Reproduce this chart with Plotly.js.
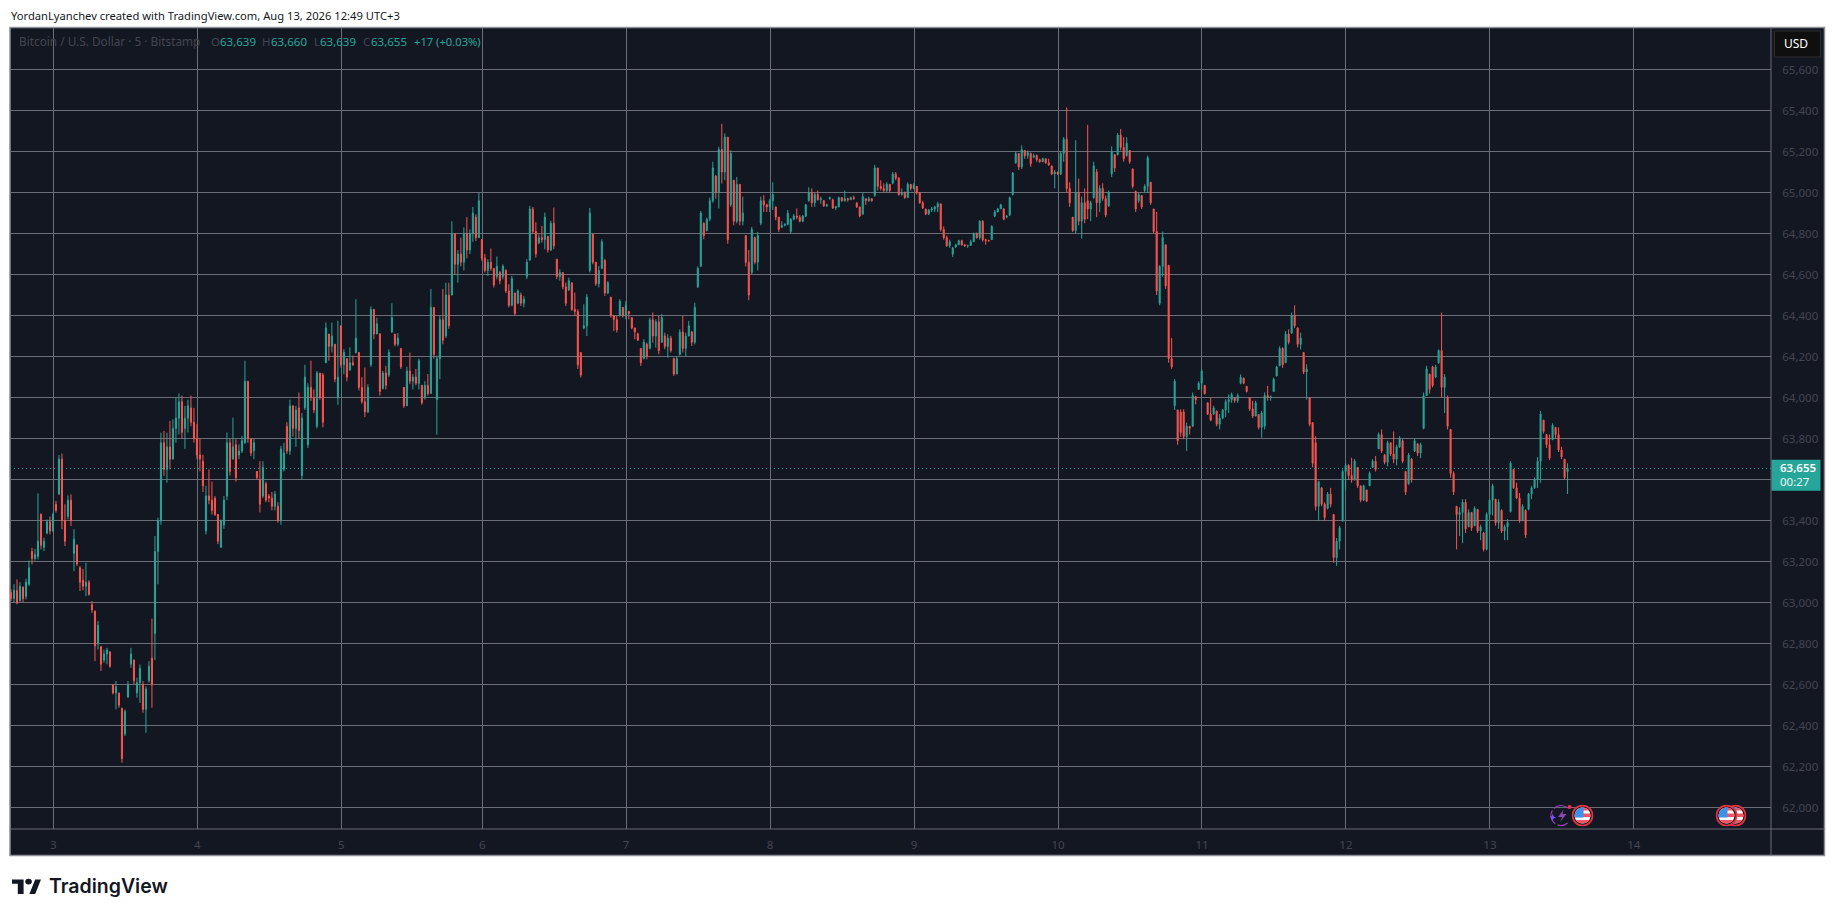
<!DOCTYPE html>
<html>
<head>
<meta charset="utf-8">
<title>BTCUSD</title>
<script src="https://cdn.plot.ly/plotly-3.0.1.min.js"></script>
<style>
    html, body { margin: 0; padding: 0; background: #fff; overflow: hidden; }
    #chart { width: 1835px; height: 917px; }
</style>
</head>
<body>
<div id="chart"></div>
<script>
// rows are [open, high, low, close], one row every 3 screen px
const day2 = [
[63050,63065,63008,63020],[63020,63090,63000,63060],[63060,63114,62992,63000],[63010,63100,63005,63080],[63075,63080,63003,63020],[63030,63117,63016,63100],[63090,63206,63081,63170],[63250,63268,63187,63215],[63215,63263,63205,63235],[63225,63533,63211,63300],[63430,63436,63260,63280],[63270,63317,63252,63300],[63340,63406,63333,63395],[63395,63420,63333,63350]
];
const day3 = [
[63350,63440,63345,63430],[63480,63496,63439,63450],[63530,63720,63525,63700],[63700,63727,63358,63400],[63400,63480,63276,63300],[63420,63523,63406,63500],[63500,63528,63374,63400],[63240,63358,63154,63310],[63280,63285,63179,63190],[63170,63179,63057,63100],[63110,63165,63060,63080],[63080,63195,63032,63100],
[63100,63110,63035,63040],[62990,63008,62950,62965],[62960,62960,62715,62790],[62800,62911,62772,62890],[62785,62790,62667,62700],[62720,62772,62707,62750],[62750,62780,62700,62770],[62760,62764,62683,62690],[62600,62602,62553,62560],[62560,62618,62480,62590],[62560,62562,62488,62500],[62485,62488,62220,62240],
[62360,62480,62350,62470],[62540,62618,62537,62600],[62700,62780,62683,62750],[62720,62724,62602,62620],[62560,62634,62537,62610],[62610,62699,62512,62680],[62600,62618,62463,62480],[62480,62593,62366,62580],[62620,62715,62610,62690],[62730,62923,62488,62600],[62850,63325,62720,63250],[63250,63415,63090,63400],
[63400,63829,63380,63780],[63780,63837,63618,63650],[63650,63829,63585,63760],[63760,63886,63650,63700],[63700,63894,63700,63850],[63850,64000,63780,63900],[63900,64020,63820,63980],[63980,64010,63800,63830],[63850,63960,63750,63900],[63900,63990,63830,63960],[63950,64010,63860,63880],[63880,63950,63780,63800]
];
const day4 = [
[63800,63870,63700,63720],[63720,63800,63640,63700],[63690,63720,63540,63570],[63350,63570,63333,63520],[63520,63650,63480,63500],[63500,63590,63430,63450],[63510,63520,63423,63430],[63430,63425,63285,63300],[63270,63406,63277,63400],[63380,63520,63360,63500],[63520,63830,63500,63780],[63780,63800,63620,63640],
[63700,63902,63700,63760],[63770,63797,63590,63610],[63720,63772,63700,63740],[63740,63813,63730,63790],[63780,64180,63775,64080],[64080,64080,63780,63800],[63800,63800,63715,63730],[63740,63800,63700,63780],[63640,63640,63600,63610],[63600,63690,63440,63480],[63520,63690,63510,63660],[63580,63590,63490,63500],
[63520,63530,63490,63510],[63510,63540,63450,63470],[63470,63545,63450,63530],[63470,63490,63390,63400],[63400,63765,63380,63750],[63650,63780,63640,63730],[63860,63880,63725,63740],[63740,63990,63720,63960],[63960,63960,63810,63850],[63850,63960,63760,63940],[63950,64025,63800,63840],[63620,63925,63600,63900],
[63950,64160,63940,64100],[63770,64070,63755,64050],[64050,64180,63984,64000],[64000,64040,63925,63940],[63860,64130,63850,64120],[64120,64120,63990,64000],[64110,64120,63855,63880],[64170,64366,64170,64340],[64310,64310,64180,64250],[64250,64366,64220,64300],[64260,64260,64075,64090],[64000,64375,63965,64100]
];
const day5 = [
[64350,64350,64146,64160],[64160,64236,64114,64220],[64190,64190,64080,64100],[64135,64245,64130,64170],[64170,64205,64155,64160],[64220,64480,64215,64290],[64220,64220,64035,64050],[64050,64100,63970,63980],[63980,64147,63905,63930],[63930,64065,63925,64050],[64160,64445,64150,64430],[64430,64430,64285,64310],
[64310,64390,64310,64360],[64310,64315,64010,64030],[64045,64130,64040,64120],[64120,64155,64040,64060],[64110,64235,64100,64220],[64320,64460,64315,64390],[64310,64310,64250,64260],[64260,64315,64250,64290],[64240,64240,64140,64150],[64050,64050,63950,63960],[63960,64150,63960,64130],[64130,64220,64065,64080],
[64080,64115,64040,64100],[64100,64140,64060,64070],[64070,64190,64040,64180],[64060,64060,63965,63975],[64000,64080,63990,64060],[64060,64115,64010,64020],[64020,64530,64020,64440],[64440,64440,64190,64210],[63990,64205,63820,64190],[64190,64400,64090,64380],[64380,64530,64260,64280],[64300,64560,64290,64500],
[64500,64560,64335,64350],[64500,64860,64500,64800],[64800,64800,64600,64650],[64650,64720,64560,64700],[64700,64780,64640,64660],[64660,64830,64620,64800],[64800,64880,64680,64720],[64720,64820,64700,64800],[64800,64930,64760,64900],[64880,64894,64764,64780],[64780,65000,64790,64960]
];
const day6 = [
[64770,64772,64667,64680],[64680,64700,64610,64620],[64620,64675,64593,64660],[64660,64727,64618,64630],[64630,64630,64537,64550],[64590,64688,64577,64640],[64610,64618,64553,64570],[64590,64650,64577,64640],[64620,64626,64510,64520],[64520,64553,64440,64450],[64450,64593,64445,64580],[64510,64512,64398,64410],
[64460,64528,64455,64520],[64500,64512,64447,64460],[64460,64495,64440,64480],[64590,64675,64578,64660],[64670,64935,64670,64920],[64920,64930,64797,64810],[64810,64855,64683,64700],[64755,64797,64748,64780],[64780,64837,64755,64770],[64770,64902,64724,64880],[64785,64789,64707,64720],[64720,64862,64715,64850],
[64850,64927,64724,64740],[64675,64675,64577,64590],[64590,64626,64570,64610],[64610,64610,64528,64540],[64540,64561,64447,64460],[64525,64585,64520,64570],[64560,64561,64423,64430],[64430,64512,64398,64420],[64420,64431,64140,64160],[64220,64220,64098,64110],[64340,64455,64333,64350],[64350,64505,64300,64490],
[64620,64925,64610,64900],[64797,64797,64650,64660],[64660,64660,64545,64555],[64555,64642,64537,64620],[64630,64772,64626,64760],[64670,64675,64496,64510],[64510,64569,64504,64560],[64490,64490,64390,64400],[64400,64400,64325,64380],[64380,64398,64317,64330],[64400,64480,64395,64470],[64440,64440,64390,64400]
];
const day7 = [
[64400,64472,64382,64450],[64420,64423,64382,64410],[64390,64390,64333,64340],[64340,64340,64285,64320],[64310,64317,64276,64280],[64240,64240,64155,64170],[64190,64285,64187,64270],[64260,64268,64187,64200],[64240,64390,64236,64380],[64380,64415,64268,64300],[64300,64382,64244,64370],[64370,64398,64211,64230],
[64270,64407,64268,64390],[64300,64317,64236,64250],[64250,64309,64195,64290],[64290,64301,64220,64230],[64190,64195,64106,64115],[64115,64203,64114,64190],[64210,64333,64205,64320],[64320,64398,64220,64240],[64240,64317,64203,64300],[64300,64374,64300,64350],[64320,64325,64252,64270],[64270,64463,64260,64440],
[64540,64640,64535,64630],[64640,64910,64640,64900],[64850,64855,64772,64790],[64815,64878,64810,64870],[64870,64975,64860,64960],[64960,65150,64950,65120],[65080,65085,64970,65000],[65000,65223,64922,65210],[65210,65335,65044,65100],[65100,65288,65060,65270],[65270,65270,64750,64770],[64940,65206,64930,65190],
[65060,65060,64840,64860],[64860,65076,64850,65040],[65040,65040,64840,64860],[64860,64980,64840,64900],[64790,64790,64640,64660],[64660,64720,64475,64500],[64610,64832,64600,64820],[64780,64785,64650,64660],[64660,64808,64620,64790],[64850,64980,64840,64960],[64960,64987,64905,64940],[64940,64945,64905,64930]
];
const day8 = [
[64930,64970,64905,64960],[64960,65050,64915,64990],[64930,64930,64865,64880],[64880,64880,64808,64820],[64830,64860,64830,64840],[64840,64850,64835,64845],[64845,64915,64840,64900],[64810,64875,64800,64870],[64870,64895,64865,64885],[64885,64922,64870,64880],[64880,64890,64855,64860],[64860,64890,64855,64885],
[64885,64945,64880,64940],[64960,65025,64955,65000],[65000,65020,64930,64950],[64950,65000,64930,64990],[64990,65010,64960,64965],[64965,64980,64945,64970],[64960,64962,64930,64935],[64935,64945,64930,64940],[64970,64980,64965,64975],[64965,64970,64920,64925],[64925,64935,64915,64930],[64930,64980,64930,64975],
[64975,64978,64955,64960],[64960,65010,64955,64970],[64970,64975,64955,64965],[64965,64980,64965,64975],[64975,64985,64965,64970],[64950,64950,64925,64930],[64930,64930,64880,64885],[64895,65000,64890,64980],[64970,64970,64940,64960],[64960,64980,64955,64970],[64970,64970,64955,64960],[64985,65135,64980,65120],
[65120,65120,65010,65030],[65030,65060,65010,65020],[65020,65045,65000,65010],[65010,65050,65000,65040],[65040,65040,65000,65010],[65045,65100,65040,65090],[65090,65100,65060,65070],[65070,65075,64985,64990],[64990,65020,64985,65000],[65000,65005,64970,64975],[64975,65050,64975,65040],[65040,65040,65010,65020]
];
const day9 = [
[65020,65045,65015,65035],[65030,65030,64990,65000],[65000,65000,64945,64950],[64950,64960,64920,64925],[64920,64920,64890,64895],[64895,64920,64890,64915],[64915,64930,64905,64920],[64920,64935,64905,64930],[64930,64955,64905,64945],[64945,64945,64810,64820],[64820,64835,64770,64780],[64780,64790,64735,64740],
[64740,64770,64730,64760],[64700,64735,64685,64730],[64735,64750,64730,64745],[64745,64770,64745,64765],[64765,64770,64740,64745],[64745,64750,64735,64740],[64740,64745,64730,64742],[64742,64770,64742,64760],[64760,64805,64760,64800],[64800,64805,64775,64780],[64780,64865,64770,64860],[64860,64865,64760,64770],
[64770,64775,64745,64765],[64765,64770,64760,64765],[64770,64840,64770,64835],[64885,64915,64880,64905],[64905,64925,64905,64920],[64920,64945,64920,64940],[64920,64925,64865,64870],[64880,64890,64875,64885],[64890,64980,64885,64975],[64990,65100,64985,65095],[65145,65200,65140,65190],[65190,65190,65110,65125],
[65125,65230,65115,65210],[65205,65205,65165,65180],[65180,65205,65165,65195],[65190,65195,65125,65140],[65172,65190,65170,65180],[65180,65185,65150,65160],[65160,65165,65145,65150],[65150,65170,65150,65165],[65165,65165,65140,65145],[65145,65165,65130,65135],[65130,65130,65085,65090],[65090,65110,65020,65100]
];
const day10 = [
[65100,65100,65085,65090],[65090,65200,65085,65190],[65190,65270,65150,65260],[65260,65415,65000,65020],[65020,65050,64930,64950],[64880,64880,64808,64815],[64815,65255,64800,65000],[65000,65068,64840,64860],[64860,64980,64775,64950],[64950,65020,64850,64870],[64960,65330,64870,64920],[64920,64960,64860,64950],
[64975,65150,64970,65130],[65100,65115,64880,64950],[64950,65035,64905,65020],[65020,65045,64960,64970],[64970,64985,64880,64890],[64935,65010,64930,65000],[65090,65225,65075,65200],[65185,65185,65100,65120],[65185,65290,65180,65280],[65280,65310,65205,65220],[65220,65270,65150,65165],[65180,65270,65175,65240],
[65205,65205,65140,65150],[65115,65117,65020,65030],[65005,65010,64905,64920],[64960,65000,64950,64990],[64985,64985,64920,64930],[65010,65040,65000,65030],[65030,65180,65000,65170],[65050,65050,64940,64950],[64920,64920,64800,64810],[64810,64905,64500,64520],[64460,64645,64450,64640],[64640,64810,64590,64780],
[64745,64745,64530,64545],[64645,64645,64170,64190],[64190,64290,64140,64150],[63960,64090,63940,64080],[63940,63940,63770,63790],[63930,63943,63810,63830],[63930,63943,63797,63810],[63810,63878,63740,63860],[63860,63860,63820,63850],[63860,64025,63860,64010],[64005,64008,63967,63990],[64040,64080,64040,64070]
];
const day11 = [
[64070,64140,64040,64130],[64060,64060,64015,64020],[63975,63975,63915,63920],[63920,64000,63885,63890],[63920,63960,63915,63950],[63935,63935,63860,63870],[63870,63920,63845,63900],[63900,63945,63895,63940],[63940,63992,63905,63980],[63980,64016,63925,63990],[63990,64025,63975,64015],[64000,64000,63975,63985],
[63985,64020,63975,64010],[64070,64113,64065,64100],[64095,64098,64065,64070],[64055,64057,64025,64030],[64000,64000,63935,63945],[63945,63985,63900,63910],[63910,63985,63910,63975],[63918,63918,63845,63855],[63855,63935,63805,63925],[63860,64025,63845,64010],[64010,64057,63985,64000],[64000,64010,63985,64005],
[64030,64098,64030,64090],[64105,64155,64105,64150],[64155,64250,64155,64240],[64240,64245,64145,64160],[64170,64325,64170,64310],[64310,64333,64260,64270],[64315,64415,64310,64400],[64400,64450,64340,64350],[64340,64342,64245,64260],[64260,64317,64235,64290],[64220,64220,64115,64125],[64125,64163,63990,64140],
[64000,64000,63860,63870],[63878,63878,63660,63680],[63780,63812,63450,63470],[63470,63595,63400,63590],[63560,63562,63470,63480],[63480,63490,63400,63415],[63460,63540,63455,63530],[63530,63560,63465,63480],[63430,63430,63195,63220],[63220,63315,63180,63300],[63300,63375,63260,63365],[63400,63650,63395,63640]
];
const day12 = [
[63640,63680,63550,63670],[63670,63675,63600,63620],[63620,63707,63585,63600],[63600,63700,63595,63690],[63660,63660,63560,63570],[63570,63570,63490,63500],[63500,63575,63495,63570],[63550,63550,63490,63495],[63570,63640,63570,63630],[63660,63700,63660,63690],[63690,63715,63640,63650],[63750,63830,63750,63820],
[63820,63845,63730,63740],[63720,63725,63675,63685],[63685,63790,63665,63780],[63780,63780,63715,63725],[63725,63835,63680,63700],[63700,63770,63670,63760],[63760,63812,63755,63800],[63790,63797,63680,63690],[63640,63640,63525,63540],[63580,63730,63575,63720],[63700,63705,63585,63600],[63740,63800,63735,63790],
[63775,63775,63715,63730],[63730,63780,63705,63770],[63850,64025,63845,64010],[64010,64155,64010,64140],[64115,64115,64020,64040],[64150,64155,64050,64060],[64100,64160,64095,64150],[64170,64235,64165,64230],[64230,64415,64000,64050],[64050,64115,63925,64100],[64000,64010,63845,63860],[63845,63845,63610,63630],
[63630,63640,63525,63540],[63470,63470,63260,63430],[63430,63465,63325,63440],[63440,63505,63290,63490],[63490,63505,63340,63360],[63370,63455,63370,63440],[63440,63440,63350,63365],[63375,63470,63375,63460],[63455,63455,63340,63350],[63350,63380,63305,63370],[63340,63345,63250,63260],[63260,63440,63255,63430]
];
const day13 = [
[63430,63505,63405,63500],[63500,63580,63425,63570],[63505,63505,63375,63390],[63390,63505,63360,63490],[63450,63455,63340,63350],[63350,63380,63305,63370],[63370,63408,63305,63390],[63445,63690,63440,63680],[63650,63650,63555,63560],[63560,63585,63505,63510],[63510,63535,63390,63400],[63400,63480,63400,63470],
[63450,63455,63315,63330],[63455,63535,63450,63530],[63530,63570,63505,63560],[63560,63610,63555,63600],[63600,63710,63560,63690],[63690,63935,63585,63920],[63890,63890,63825,63835],[63820,63820,63755,63770],[63770,63820,63695,63705],[63795,63875,63795,63865],[63855,63855,63800,63820],[63820,63855,63735,63745],
[63745,63760,63700,63710],[63700,63700,63600,63610],[63639,63680,63530,63655]
];

const priceTicks = [62000,62200,62400,62600,62800,63000,63200,63400,63600,63800,64000,64200,64400,64600,64800,65000,65200,65400,65600];
const priceLabels = ["62,000","62,200","62,400","62,600","62,800","63,000","63,200","63,400","","63,800","64,000","64,200","64,400","64,600","64,800","65,000","65,200","65,400","65,600"];
const dayTicks = [14.1,62.1,110.1,157.1,205.1,253.1,301.1,349.1,397.1,445.1,493.1,541.1];
const dayLabels = ["3","4","5","6","7","8","9","10","11","12","13","14"];
const lastPrice = 63655;

const UP = "#26a69a";
const DOWN = "#f9554f";
const BG = "#131722";
const GRID = "#6b6d77";
const DIM = "#434651";
const FONT = "Noto Sans, DejaVu Sans, sans-serif";

// screen px -> paper coords
const L = 10, R = 1771.5, T = 28, B = 829.5;
const px = (x) => (x - L) / (R - L);
const py = (y) => 1 - (y - T) / (B - T);

const rows = [...day2, ...day3, ...day4, ...day5, ...day6, ...day7, ...day8, ...day9, ...day10, ...day11, ...day12, ...day13];

const data = [{
    type: "candlestick",
    x: rows.map((r, i) => i),
    open: rows.map(r => r[0]),
    high: rows.map(r => r[1]),
    low: rows.map(r => r[2]),
    close: rows.map(r => r[3]),
    whiskerwidth: 0,
    increasing: {line: {color: UP, width: 1}, fillcolor: UP},
    decreasing: {line: {color: DOWN, width: 1}, fillcolor: DOWN},
    hoverinfo: "skip"
}];

const svgUri = (s) => "data:image/svg+xml;base64," + btoa(s);
const flagSvg = `<svg xmlns="http://www.w3.org/2000/svg" width="44" height="44" viewBox="0 0 44 44">
<defs><clipPath id="c"><circle cx="22" cy="22" r="16"/></clipPath></defs>
<circle cx="22" cy="22" r="20" fill="#131722" stroke="#e5323f" stroke-width="3.5"/>
<g clip-path="url(#c)"><rect x="0" y="0" width="44" height="44" fill="#fff"/>
<rect x="0" y="6" width="44" height="6" fill="#f7525f"/><rect x="0" y="18" width="44" height="7" fill="#f7525f"/><rect x="0" y="31" width="44" height="7" fill="#f7525f"/>
<rect x="4" y="4" width="20" height="22" fill="#3f8fe8"/></g></svg>`;
const boltSvg = `<svg xmlns="http://www.w3.org/2000/svg" width="60" height="48" viewBox="0 0 60 48">
<path d="M46 9 A20 20 0 1 0 46 39" transform="translate(-6 0)" fill="none" stroke="#9c3fb8" stroke-width="2.4" stroke-dasharray="30 5"/>
<path d="M32 12 L21 27 H29 L25 37 L38 21 H30 Z" fill="#8e44ad"/>
<path d="M4 27 C8 26 9 25 10 19 C11 25 12 26 17 28 C12 29 11 30 10 37 C9 30 8 29 4 27 Z" fill="#7b4dff"/>
<circle cx="44" cy="7" r="4" fill="#f23645"/></svg>`;
const logoSvg = `<svg xmlns="http://www.w3.org/2000/svg" width="70" height="36" viewBox="0 4 35 22" preserveAspectRatio="none">
<path d="M14 6H0v6h7v14h7V6zM28 26h-7l7-20h7l-7 20z" fill="#131722"/><circle cx="20" cy="9" r="4" fill="#131722"/></svg>`;

const img = (source, x, y, w, h) => ({
    source: svgUri(source), xref: "paper", yref: "paper",
    x: px(x), y: py(y), sizex: w / (R - L), sizey: h / (B - T),
    xanchor: "left", yanchor: "top", sizing: "stretch", layer: "above"
});

const note = (text, x, y, color, size, weight, family) => ({
    text: text, xref: "paper", yref: "paper", x: px(x), y: py(y),
    xanchor: "left", yanchor: "middle", showarrow: false,
    font: {family: family || FONT, size: size, color: color, weight: weight || 400},
    borderpad: 0
});

const layout = {
    width: 1835,
    height: 917,
    margin: {l: L, r: 1835 - R, t: T, b: 917 - B, pad: 0, autoexpand: false},
    paper_bgcolor: "#ffffff",
    plot_bgcolor: BG,
    showlegend: false,
    hovermode: false,
    dragmode: false,
    boxgap: 0.5,
    xaxis: {
        type: "linear",
        range: [-0.33, 586.83],
        tickmode: "array",
        tickvals: dayTicks,
        ticktext: dayLabels,
        tickfont: {family: FONT, size: 11.5, color: DIM},
        ticks: "outside",
        ticklen: 5,
        tickcolor: "rgba(0,0,0,0)",
        showgrid: true,
        gridcolor: GRID,
        gridwidth: 1,
        zeroline: false,
        showline: false,
        rangeslider: {visible: false}
    },
    yaxis: {
        side: "right",
        range: [61896.7, 65802.2],
        tickmode: "array",
        tickvals: priceTicks,
        ticktext: priceLabels,
        tickfont: {family: FONT, size: 11.5, color: DIM},
        ticks: "outside",
        ticklen: 8,
        tickcolor: "rgba(0,0,0,0)",
        showgrid: true,
        gridcolor: GRID,
        gridwidth: 1,
        zeroline: false,
        showline: false
    },
    shapes: [
        // whole panel, axis strips included
        {type: "rect", xref: "paper", yref: "paper", x0: px(10), x1: px(1825), y0: py(27.5), y1: py(856), fillcolor: BG, line: {color: "#8e9099", width: 1.5}, layer: "below"},
        {type: "line", xref: "paper", yref: "paper", x0: px(1771.5), x1: px(1771.5), y0: py(27.5), y1: py(856), line: {color: GRID, width: 1}},
        {type: "line", xref: "paper", yref: "paper", x0: px(10), x1: px(1825), y0: py(829.5), y1: py(829.5), line: {color: GRID, width: 1}},
        // last price
        {type: "line", xref: "paper", yref: "y", x0: 0, x1: 1, y0: lastPrice, y1: lastPrice, line: {color: UP, width: 1, dash: "1px,3px"}},
        {type: "rect", xref: "paper", yref: "paper", x0: px(1772), x1: px(1821), y0: py(460), y1: py(491), fillcolor: UP, line: {width: 0}},
        // USD button
        {type: "rect", xref: "paper", yref: "paper", x0: px(1775), x1: px(1821), y0: py(31), y1: py(57), fillcolor: "#0f0f0f", line: {color: "#2e2e2e", width: 1}}
    ],
    images: [
        img(boltSvg, 1548, 804, 30, 24),
        img(flagSvg, 1572, 805, 22, 22),
        img(flagSvg, 1725, 805, 22, 22),
        img(flagSvg, 1716, 805, 22, 22),
        img(logoSvg, 12, 878.5, 29, 16)
    ],
    annotations: [
        note("YordanLyanchev created with TradingView.com, Aug 13, 2026 12:49 UTC+3", 10, 15, "#131722", 11.2),
        note("Bitcoin / U.S. Dollar · 5 · Bitstamp", 18, 41.5, DIM, 11.8),
        note("O", 210, 41.5, DIM, 11.5),
        note("63,639", 219, 41.5, UP, 11.5),
        note("H", 261, 41.5, DIM, 11.5),
        note("63,660", 270, 41.5, UP, 11.5),
        note("L", 313, 41.5, DIM, 11.5),
        note("63,639", 319, 41.5, UP, 11.5),
        note("C", 362, 41.5, DIM, 11.5),
        note("63,655", 370, 41.5, UP, 11.5),
        note("+17 (+0.03%)", 413, 41.5, UP, 11.2),
        note("USD", 1784, 44, "#ffffff", 12),
        note("63,655", 1780, 468, "#ffffff", 11.5, 600),
        note("00:27", 1780, 482, "#e6f5f3", 11.5),
        note("TradingView", 48.5, 887, "#131722", 19.5, 600, "Inter, sans-serif")
    ]
};

Plotly.newPlot("chart", data, layout, {displayModeBar: false, staticPlot: true});
</script>
</body>
</html>
